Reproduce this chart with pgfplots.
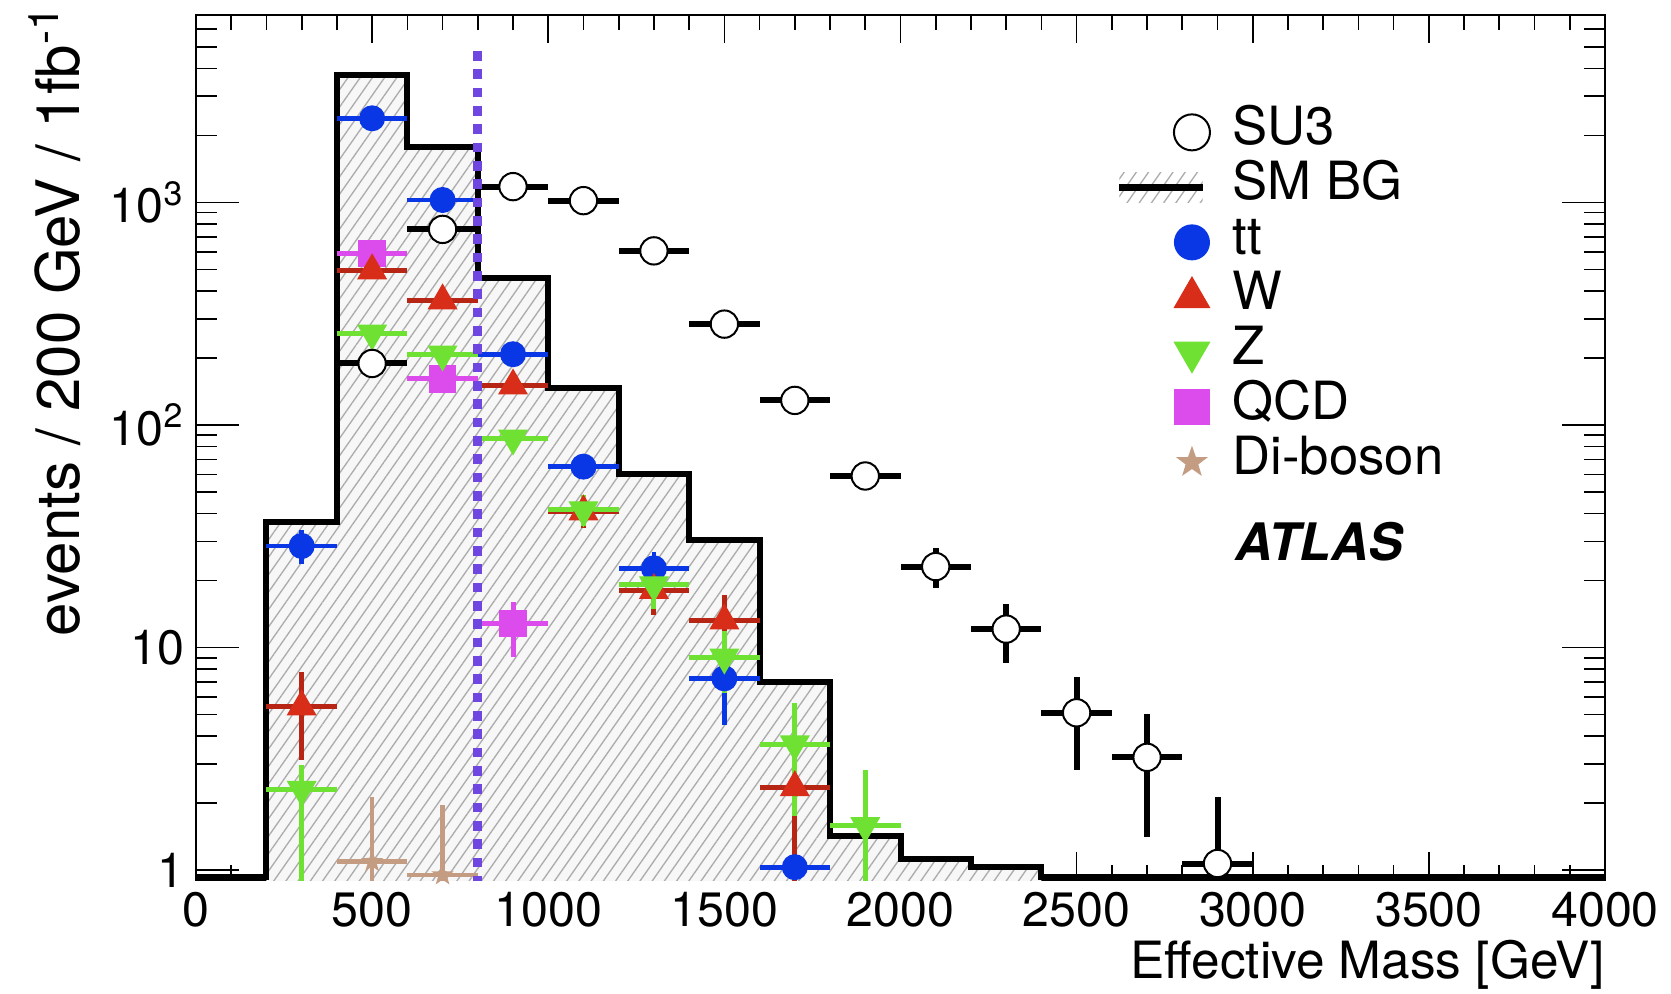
\documentclass[border=0pt]{standalone}
\usepackage{fontspec}
\setmainfont{TeX Gyre Heros}
\usepackage{pgfplots}
\pgfplotsset{compat=1.18}
\usetikzlibrary{patterns.meta}

\definecolor{ttblue}{RGB}{10,55,230}
\definecolor{wred}{RGB}{215,45,25}
\definecolor{zgreen}{RGB}{110,225,50}
\definecolor{qcdmag}{RGB}{220,75,235}
\definecolor{dibtan}{RGB}{196,156,130}
\definecolor{cutpurple}{RGB}{112,70,225}

% filled five point star
\pgfdeclareplotmark{fstar}{%
  \pgfpathmoveto{\pgfpointpolar{90}{\pgfplotmarksize}}%
  \pgfpathlineto{\pgfpointpolar{126}{0.4\pgfplotmarksize}}%
  \pgfpathlineto{\pgfpointpolar{162}{\pgfplotmarksize}}%
  \pgfpathlineto{\pgfpointpolar{198}{0.4\pgfplotmarksize}}%
  \pgfpathlineto{\pgfpointpolar{234}{\pgfplotmarksize}}%
  \pgfpathlineto{\pgfpointpolar{270}{0.4\pgfplotmarksize}}%
  \pgfpathlineto{\pgfpointpolar{306}{\pgfplotmarksize}}%
  \pgfpathlineto{\pgfpointpolar{342}{0.4\pgfplotmarksize}}%
  \pgfpathlineto{\pgfpointpolar{18}{\pgfplotmarksize}}%
  \pgfpathlineto{\pgfpointpolar{54}{0.4\pgfplotmarksize}}%
  \pgfpathclose\pgfusepathqfill}

\pgfplotsset{
  errs/.style={only marks, forget plot,
    error bars/x dir=both, error bars/x explicit,
    error bars/y dir=both, error bars/y explicit,
    error bars/error mark=none},
  marklegend/.style={legend image code/.code={%
      \path[draw=none, fill=none] (0pt,-6pt) rectangle (25pt,6pt);
      \draw[##1] plot coordinates {(21.8pt,0pt)};}},
}

\begin{document}
\begin{tikzpicture}
\useasboundingbox (-58.8pt,-33.9pt) rectangle (442.5pt,264pt);
\begin{axis}[
  scale only axis, width=422.7pt, height=259.5pt,
  xmin=0, xmax=4000, ymode=log, ymin=0.902, ymax=6960,
  xtick={0,500,...,4000}, minor x tick num=4,
  ytick={1,10,100,1000},
  yticklabels={1,10,10\textsuperscript{2},10\textsuperscript{3}},
  minor ytick={2,...,9,20,30,...,90,200,300,...,900,2000,3000,...,6000},
  tick align=inside,
  xtick style={/pgfplots/major tick length=8.5pt, /pgfplots/minor tick length=4.5pt},
  ytick style={/pgfplots/major tick length=13pt, /pgfplots/minor tick length=6.4pt},
  every tick/.append style={line width=0.5pt, black},
  axis line style={line width=0.5pt},
  /pgf/number format/1000 sep={},
  /pgf/number format/assume math mode=true,
  ticklabel style={font=\fontsize{14.5}{16}\selectfont},
  xlabel={Effective Mass [GeV]},
  ylabel={events / 200 GeV / 1fb\textsuperscript{-1}},
  xlabel style={at={(axis description cs:1,-0.0979)}, anchor=east, inner sep=0pt,
    font=\fontsize{15.4}{17}\selectfont},
  ylabel style={at={(axis description cs:-0.1,1.0116)}, anchor=east, inner sep=0pt,
    font=\fontsize{18}{20}\selectfont},
  legend style={at={(axis description cs:0.6522,0.893)}, anchor=north west,
    draw=none, fill=none, inner sep=0pt, row sep=2pt, column sep=6.8pt,
    font=\fontsize{15.8}{17}\selectfont,
    nodes={inner sep=0pt, text height=11pt, text depth=3.5pt}},
  legend cell align=left,
]

% SM background, filled and hatched
\addplot[const plot, draw=none, fill=gray!6, forget plot] coordinates {
  (200,0.5) (200,36.8) (400,3741) (600,1771) (800,459) (1000,146) (1200,60)
  (1400,30.4) (1600,7.02) (1800,1.42) (2000,1.12) (2200,1.03) (2400,0.5)
} -- cycle;
\addplot[const plot, draw=none, forget plot,
  pattern={Lines[angle=55,distance=3pt,line width=0.4pt]}, pattern color=gray!65] coordinates {
  (200,0.5) (200,36.8) (400,3741) (600,1771) (800,459) (1000,146) (1200,60)
  (1400,30.4) (1600,7.02) (1800,1.42) (2000,1.12) (2200,1.03) (2400,0.5)
} -- cycle;
\addplot[const plot, line width=1.8pt, black, forget plot] coordinates {
  (0,0.93) (200,36.8) (400,3741) (600,1771) (800,459) (1000,146) (1200,60)
  (1400,30.4) (1600,7.02) (1800,1.42) (2000,1.12) (2200,1.03) (2400,0.93) (4000,0.93)
};

% ttbar
\addplot[errs, mark=*, mark size=3.7pt, color=ttblue,
  error bars/error bar style={line width=1.4pt, ttblue}] coordinates {
  (300,28.6) += (100,5.2) -= (100,4.9)
  (500,2389) += (100,0) -= (100,0)
  (700,1026) += (100,0) -= (100,0)
  (900,208) += (100,0) -= (100,0)
  (1100,65) += (100,0) -= (100,0)
  (1300,22.7) += (100,4.3) -= (100,4.3)
  (1500,7.27) += (100,2.8) -= (100,2.8)
  (1700,1.03) += (100,1.0) -= (100,1.0)
};
% QCD
\addplot[errs, mark=square*, mark size=3.9pt, color=qcdmag,
  error bars/error bar style={line width=1.5pt, qcdmag}] coordinates {
  (500,591) += (100,0) -= (100,0)
  (700,161) += (100,0) -= (100,0)
  (900,12.8) += (100,3.3) -= (100,3.7)
};
% W
\addplot[errs, mark=triangle*, mark size=4.8pt, color=wred,
  error bars/error bar style={line width=1.5pt, wred!85!black}] coordinates {
  (300,5.42) += (100,2.36) -= (100,2.3)
  (500,494) += (100,0) -= (100,0)
  (700,362) += (100,0) -= (100,0)
  (900,150) += (100,0) -= (100,0)
  (1100,40.8) += (100,6.8) -= (100,6.5)
  (1300,18.1) += (100,4.6) -= (100,4.1)
  (1500,13.2) += (100,4.0) -= (100,3.1)
  (1700,2.35) += (100,1.49) -= (100,2.0)
};
% Z
\addplot[errs, mark=triangle*, mark size=4.8pt, mark options={rotate=180}, color=zgreen,
  error bars/error bar style={line width=1.5pt, zgreen}] coordinates {
  (300,2.30) += (100,0.66) -= (100,2.0)
  (500,258) += (100,0) -= (100,0)
  (700,208) += (100,0) -= (100,0)
  (900,87.2) += (100,0) -= (100,0)
  (1100,41.5) += (100,6.8) -= (100,6.5)
  (1300,19.1) += (100,4.4) -= (100,4.2)
  (1500,9.04) += (100,2.8) -= (100,2.8)
  (1700,3.68) += (100,1.93) -= (100,1.93)
  (1900,1.58) += (100,1.24) -= (100,1.3)
};
% di-boson
\addplot[errs, mark=fstar, mark size=3.5pt, color=dibtan,
  error bars/error bar style={line width=1.4pt, dibtan}] coordinates {
  (500,1.09) += (100,1.03) -= (100,1.0)
  (700,0.95) += (100,1.01) -= (100,0.9)
};
% SU3 signal
\addplot[errs, mark=*, mark size=4.1pt, color=black,
  mark options={fill=white, draw=black, line width=0.6pt},
  error bars/error bar style={line width=1.8pt, black}] coordinates {
  (500,189) += (100,0) -= (100,0)
  (700,757) += (100,0) -= (100,0)
  (900,1178) += (100,0) -= (100,0)
  (1100,1019) += (100,0) -= (100,0)
  (1300,606) += (100,0) -= (100,0)
  (1500,284) += (100,0) -= (100,0)
  (1700,129) += (100,0) -= (100,0)
  (1900,59) += (100,6) -= (100,6)
  (2100,23.1) += (100,4.8) -= (100,4.6)
  (2300,12.1) += (100,3.6) -= (100,3.55)
  (2500,5.09) += (100,2.26) -= (100,2.27)
  (2700,3.21) += (100,1.81) -= (100,1.8)
  (2900,1.07) += (100,1.05) -= (100,0.9)
};
% cut line
\addplot[cutpurple, line width=2.6pt, dash pattern=on 2.9pt off 2.6pt, forget plot]
  coordinates {(800,0.85) (800,4850)};

% legend
\addlegendimage{marklegend, mark=*, mark size=5.4pt, black,
  mark options={fill=white, draw=black, line width=0.6pt}}
\addlegendentry{SU3}
\addlegendimage{legend image code/.code={%
    \path[draw=none, fill=none] (0pt,-6pt) rectangle (25pt,6pt);
    \path[draw=none, pattern={Lines[angle=55,distance=3pt,line width=0.4pt]}, pattern color=gray!65]
      (0pt,-4.5pt) rectangle (25pt,4.5pt);
    \draw[line width=2.2pt, black] (0pt,0pt) -- (25pt,0pt);}}
\addlegendentry{SM BG}
\addlegendimage{marklegend, mark=*, mark size=5.2pt, ttblue}
\addlegendentry{tt}
\addlegendimage{marklegend, mark=triangle*, mark size=6pt, wred}
\addlegendentry{W}
\addlegendimage{marklegend, mark=triangle*, mark size=6pt, mark options={rotate=180}, zgreen}
\addlegendentry{Z}
\addlegendimage{marklegend, mark=square*, mark size=5.2pt, qcdmag}
\addlegendentry{QCD}
\addlegendimage{marklegend, mark=fstar, mark size=5pt, dibtan}
\addlegendentry{Di-boson}

\node[anchor=west, inner sep=0pt, font=\fontsize{15.5}{17}\selectfont\bfseries\itshape]
  at (axis description cs:0.7374,0.391) {ATLAS};
\end{axis}
\end{tikzpicture}
\end{document}
